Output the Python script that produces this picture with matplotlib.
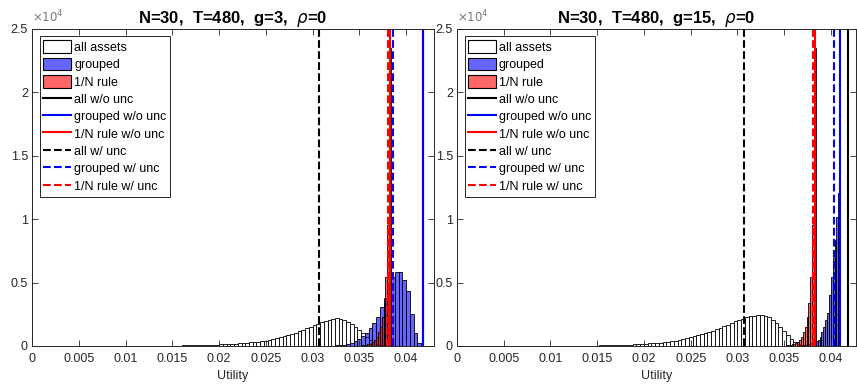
import numpy as np
from matplotlib import pyplot as plt
from matplotlib.patches import Patch
from matplotlib.lines import Line2D

plt.rcParams['font.family'] = ['Liberation Sans', 'DejaVu Sans']

# ---- histogram data (counts per bin) ----
# all assets, bins of 0.0004 starting at 0.006
all_start = 0.006
all_width = 0.0004
all_counts_g3 = [8, 9, 10, 11, 12, 13, 14, 15, 16, 17,
                 18, 19, 20, 21, 22, 23, 24, 25, 26, 28,
                 30, 32, 34, 36, 38, 41, 44, 48, 54, 60,
                 67, 75, 84, 94, 105, 118, 132, 148, 165, 185,
                 205, 230, 255, 285, 315, 350, 390, 430, 475, 525,
                 640, 700, 780, 860, 950, 1050, 1150, 1260, 1380, 1500,
                 1620, 1750, 1880, 1990, 2070, 2130, 2180, 2150, 2060, 1920,
                 1740, 1520, 1280, 1000, 720, 470, 280, 150, 70, 30,
                 10, 3]
all_counts_g15 = [10, 11, 12, 13, 14, 15, 16, 17, 18, 19,
                  20, 21, 22, 23, 24, 25, 26, 28, 30, 32,
                  34, 36, 38, 41, 44, 48, 52, 58, 65, 73,
                  95, 110, 125, 140, 160, 180, 200, 225, 250, 270,
                  290, 330, 370, 420, 480, 540, 600, 670, 750, 830,
                  920, 1020, 1120, 1220, 1320, 1420, 1550, 1690, 1830, 1960,
                  2060, 2160, 2250, 2330, 2390, 2420, 2410, 2360, 2250, 2050,
                  1800, 1500, 1180, 880, 580, 330, 170, 80, 30, 10,
                  3, 1]

# grouped, g=3: bins of 0.0004 starting at 0.030
grp3_start = 0.030
grp3_width = 0.0004
grp3_counts = [5, 8, 12, 18, 25, 35, 50, 70, 100, 140,
               200, 370, 520, 750, 1050, 1400, 1800, 2300, 3100, 3750,
               5000, 5450, 5850, 5800, 5200, 4300, 2500, 1000, 240]

# grouped, g=15: bins of 0.0002 starting at 0.0354
grp15_start = 0.0354
grp15_width = 0.0002
grp15_counts = [5, 8, 12, 18, 25, 35, 50, 65, 85, 110,
                140, 170, 210, 250, 300, 360, 470, 730, 1130, 1520,
                2050, 2580, 4020, 5470, 6900, 8360, 10200, 12100]

# 1/N rule: bins of 0.0002 starting at 0.034
onen_start = 0.034
onen_width = 0.0002
onen_counts = [5, 8, 12, 18, 25, 35, 50, 70, 95, 130,
               170, 220, 300, 470, 730, 1130, 1520, 2310, 3370, 5470,
               9540, 23500]

# vertical lines: certainty equivalents
all_wo = 0.0418
onen_wo = 0.03833
all_w = 0.0307
onen_w = 0.03807
grouped_wo = {3: 0.0418, 15: 0.0410}
grouped_w = {3: 0.03857, 15: 0.04029}

yticks = [0, 5000, 10000, 15000, 20000, 25000]
ytick_labels = ['0', '0.5', '1', '1.5', '2', '2.5']
xticks = [0, 0.005, 0.01, 0.015, 0.02, 0.025, 0.03, 0.035, 0.04]
xtick_labels = ['0', '0.005', '0.01', '0.015', '0.02', '0.025', '0.03', '0.035', '0.04']

blue_face = (0, 0, 1, 0.6)
red_face = (1, 0, 0, 0.6)
axcol = '#262626'


def draw_hist(ax, start, width, counts, face):
    edges = start + width * np.arange(len(counts))
    ax.bar(edges, counts, width=width, align='edge', facecolor=face,
           edgecolor='k', linewidth=0.6)


def draw_panel(ax, g, all_counts, grp_start, grp_width, grp_counts, xmax):
    draw_hist(ax, all_start, all_width, all_counts, 'white')
    draw_hist(ax, grp_start, grp_width, grp_counts, blue_face)
    draw_hist(ax, onen_start, onen_width, onen_counts, red_face)

    lw = 1.5
    ax.axvline(all_wo, color='k', lw=lw)
    ax.axvline(grouped_wo[g], color='b', lw=lw)
    ax.axvline(onen_wo, color='r', lw=lw)
    ax.axvline(all_w, color='k', lw=lw, ls='--')
    ax.axvline(grouped_w[g], color='b', lw=lw, ls='--')
    ax.axvline(onen_w, color='r', lw=lw, ls='--')

    ax.set_xlim(0, xmax)
    ax.set_ylim(0, 25000)
    ax.set_xticks(xticks)
    ax.set_xticklabels(xtick_labels)
    ax.set_yticks(yticks)
    ax.set_yticklabels(ytick_labels)
    ax.tick_params(direction='in', top=True, right=True, length=4,
                   width=0.6, colors=axcol, labelsize=9)
    ax.tick_params(axis='x', pad=5)
    ax.tick_params(axis='y', pad=3)
    for s in ax.spines.values():
        s.set_color(axcol)
        s.set_linewidth(0.7)
    ax.set_xlabel('Utility', fontsize=9, color=axcol, labelpad=4)
    ax.set_title(r'N=30,  T=480,  g=%d,  $\rho$=0' % g, fontsize=12,
                 fontweight='bold', pad=4)
    ax.text(0.0, 1.012, r'$\times10^4$', transform=ax.transAxes,
            fontsize=8.5, color='#777777', ha='left', va='bottom')

    handles = [Patch(facecolor='white', edgecolor='k', lw=0.8),
               Patch(facecolor=blue_face, edgecolor='k', lw=0.8),
               Patch(facecolor=red_face, edgecolor='k', lw=0.8),
               Line2D([], [], color='k', lw=1.5),
               Line2D([], [], color='b', lw=1.5),
               Line2D([], [], color='r', lw=1.5),
               Line2D([], [], color='k', lw=1.5, ls='--'),
               Line2D([], [], color='b', lw=1.5, ls='--'),
               Line2D([], [], color='r', lw=1.5, ls='--')]
    labels = ['all assets', 'grouped', '1/N rule',
              'all w/o unc', 'grouped w/o unc', '1/N rule w/o unc',
              'all w/ unc', 'grouped w/ unc', '1/N rule w/ unc']
    leg = ax.legend(handles, labels, loc='upper left', fontsize=9,
                    fancybox=False, framealpha=1, edgecolor=axcol,
                    handlelength=2.2, handleheight=1.2, handletextpad=0.25,
                    labelspacing=0.3, borderpad=0.3, borderaxespad=0.6)
    leg.get_frame().set_linewidth(0.7)


fig = plt.figure(figsize=(8.57, 3.84), dpi=100)
ax1 = fig.add_axes([0.0375, 0.099, 0.469, 0.8255])
ax2 = fig.add_axes([0.5333, 0.099, 0.4656, 0.8255])

draw_panel(ax1, 3, all_counts_g3, grp3_start, grp3_width, grp3_counts, 0.043)
draw_panel(ax2, 15, all_counts_g15, grp15_start, grp15_width, grp15_counts, 0.0427)

fig.savefig('out.png', dpi=100)
